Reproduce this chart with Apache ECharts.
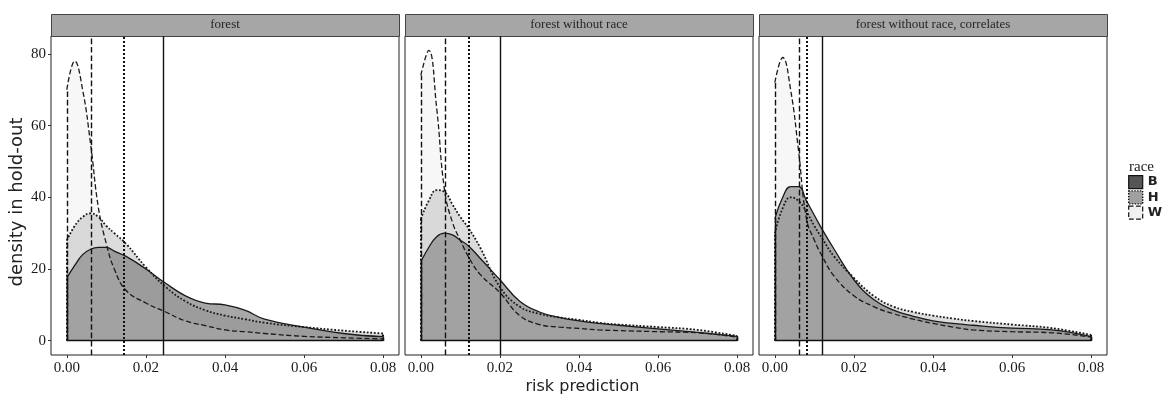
<!DOCTYPE html>
<html>
<head>
<meta charset="utf-8">
<script src="https://cdn.jsdelivr.net/npm/echarts@6/dist/echarts.min.js"></script>
<style>
  html, body { margin: 0; padding: 0; background: #fff; }
  #chart { width: 1165px; height: 394px; }
</style>
</head>
<body>
<div id="chart"></div>
<script>
// risk prediction grid (x) shared by all density curves
const xs = [0, 0.002, 0.004, 0.006, 0.008, 0.01, 0.012, 0.015, 0.02, 0.025, 0.03, 0.035, 0.04, 0.045, 0.05, 0.06, 0.07, 0.08]

// facet 1: forest
const forestB = [17.5, 21, 24, 25.5, 26, 26, 25, 23.5, 20, 16, 12.5, 10.5, 10, 8.5, 6, 3.8, 2, 1.1]
const forestH = [28, 32, 34.5, 35.5, 34.5, 32, 30, 27, 20.5, 15, 11, 8.5, 7, 6, 5, 3.8, 2.8, 2]
const forestW = [70, 78, 70, 55, 37, 27, 20, 14, 10.5, 8, 5.5, 4.2, 3, 2.5, 2, 1.2, 0.8, 0.5]
const forestCut = { B: 0.0243, H: 0.0144, W: 0.0063 }

// facet 2: forest without race
const noRaceB = [22, 26, 29, 30, 29.5, 28, 26.5, 23, 17, 11, 8, 6.5, 5.5, 4.8, 4.3, 3.3, 2.3, 1.2]
const noRaceH = [34, 39, 42, 41.5, 38, 34.5, 31.5, 26, 15, 9.5, 7.5, 6.5, 5.8, 5, 4.5, 3.8, 3, 1.3]
const noRaceW = [74, 81, 65, 42, 33, 28, 23.5, 18.5, 13.4, 7, 4.5, 3.8, 3.4, 3, 2.8, 2.5, 2.2, 1]
const noRaceCut = { B: 0.020, H: 0.0122, W: 0.0061 }

// facet 3: forest without race, correlates
const corrB = [34, 40, 43, 43, 39, 35, 31, 25.5, 17, 11.5, 8.5, 6.8, 5.5, 4.8, 4.3, 3.5, 3, 1.1]
const corrH = [30, 37, 40, 39, 36, 32, 28.5, 23.5, 17.5, 12.5, 9.5, 8, 7, 6.2, 5.5, 4.5, 3.5, 1.6]
const corrW = [72, 79, 70, 53, 34, 28, 23.5, 18, 12.5, 9.5, 7.5, 6, 4.8, 3.8, 3, 2.5, 2.2, 1]
const corrCut = { B: 0.0119, H: 0.0081, W: 0.0063 }

const facetNames = ['forest', 'forest without race', 'forest without race, correlates']
const races = ['B', 'H', 'W']
const xTicks = [0, 0.02, 0.04, 0.06, 0.08]
const yTicks = [0, 20, 40, 60, 80]

const facets = [
    { B: forestB, H: forestH, W: forestW, cut: forestCut },
    { B: noRaceB, H: noRaceH, W: noRaceW, cut: noRaceCut },
    { B: corrB, H: corrH, W: corrW, cut: corrCut }
]

const raceStyle = {
    B: { line: 'solid', width: 1.3, fill: 'rgba(45,45,45,0.6)' },
    H: { line: 'dotted', width: 1.8, fill: 'rgba(130,130,130,0.4)' },
    W: { line: 'dashed', width: 1.3, fill: 'rgba(200,200,200,0.2)' }
}

const serif = '"Liberation Serif", "DejaVu Serif", serif'
const sans = '"DejaVu Sans", sans-serif'
const panelLeft = [51, 405, 759]
const panelW = 348
const panelTop = 36
const panelH = 319

let grids = [], xAxes = [], yAxes = [], series = [], graphics = []

facets.forEach((f, i) => {
    grids.push({
        left: panelLeft[i], top: panelTop, width: panelW, height: panelH,
        show: true, borderColor: '#222', borderWidth: 1, backgroundColor: '#fff'
    })
    xAxes.push({
        type: 'value', gridIndex: i, min: -0.004, max: 0.084,
        axisLine: { show: false, onZero: false },
        axisTick: { show: true, length: 3, lineStyle: { color: '#333' }, customValues: xTicks },
        axisLabel: {
            customValues: xTicks, margin: 6, color: '#1a1a1a', fontFamily: serif, fontSize: 15,
            formatter: v => v.toFixed(2)
        },
        splitLine: { show: false }
    })
    yAxes.push({
        type: 'value', gridIndex: i, min: -4, max: 85,
        axisLine: { show: false, onZero: false },
        axisTick: { show: i === 0, length: 3, lineStyle: { color: '#333' }, customValues: yTicks },
        axisLabel: { show: i === 0, customValues: yTicks, margin: 5, color: '#1a1a1a', fontFamily: serif, fontSize: 15 },
        splitLine: { show: false }
    })

    races.forEach(r => {
        let st = raceStyle[r]
        let vals = f[r]
        let last = xs.length - 1
        let pts = xs.map((x, k) => [x, vals[k]])
        // polygon sides at both ends, as ggplot outlines the density area
        let lines = [
            { xAxis: f.cut[r] },
            [{ coord: [xs[0], 0] }, { coord: [xs[0], vals[0]] }],
            [{ coord: [xs[last], 0] }, { coord: [xs[last], vals[last]] }]
        ]
        if (r === 'B') lines.push([{ coord: [xs[0], 0] }, { coord: [xs[last], 0] }])
        series.push({
            type: 'line', name: r, xAxisIndex: i, yAxisIndex: i,
            data: pts, showSymbol: false, smooth: 0.45,
            lineStyle: { color: '#1a1a1a', width: st.width, type: st.line },
            itemStyle: { color: '#1a1a1a' },
            areaStyle: { color: st.fill, origin: 0 },
            silent: true,
            markLine: {
                silent: true, symbol: 'none', precision: 5, label: { show: false },
                lineStyle: { color: '#111', width: r === 'H' ? 2 : 1.4, type: st.line },
                data: lines
            }
        })
    })

    // facet strip
    graphics.push({
        type: 'rect', left: panelLeft[i], top: 14,
        shape: { width: panelW, height: 22 },
        style: { fill: '#a6a6a6', stroke: '#444', lineWidth: 1 }
    })
    graphics.push({
        type: 'text', x: panelLeft[i] + panelW / 2, y: 25,
        style: { text: facetNames[i], fill: '#262626', font: '13px ' + serif, align: 'center', verticalAlign: 'middle' }
    })
})

let EC = echarts.init(document.getElementById('chart'))
let option = {
    backgroundColor: '#fff',
    animation: false,
    title: [
        { text: 'race', left: 1124, top: 155, textStyle: { fontFamily: serif, fontSize: 15, fontWeight: 'normal', color: '#222' } },
        { text: 'risk prediction', left: 'center', top: 374, textStyle: { fontFamily: sans, fontSize: 16, fontWeight: 'normal', color: '#222' } }
    ],
    legend: {
        orient: 'vertical', left: 1123, top: 170, itemWidth: 14, itemHeight: 13, itemGap: 1,
        selectedMode: false,
        textStyle: { fontFamily: sans, fontSize: 13, fontWeight: 'bold', color: '#222', padding: [0, 0, 0, 0] },
        data: [
            { name: 'B', icon: 'rect', itemStyle: { color: '#555', borderColor: '#111', borderWidth: 1.2 } },
            { name: 'H', icon: 'rect', itemStyle: { color: '#a0a0a0', borderColor: '#111', borderWidth: 1.4, borderType: 'dotted' } },
            { name: 'W', icon: 'rect', itemStyle: { color: '#f0f0f0', borderColor: '#111', borderWidth: 1.2, borderType: 'dashed' } }
        ]
    },
    grid: grids,
    xAxis: xAxes,
    yAxis: yAxes,
    series: series,
    graphic: graphics.concat([{
        type: 'text', x: 17, y: 202, rotation: Math.PI / 2,
        style: { text: 'density in hold-out', fill: '#222', font: '18px ' + sans, align: 'center', verticalAlign: 'middle' }
    }])
}
EC.setOption(option)
</script>
</body>
</html>
